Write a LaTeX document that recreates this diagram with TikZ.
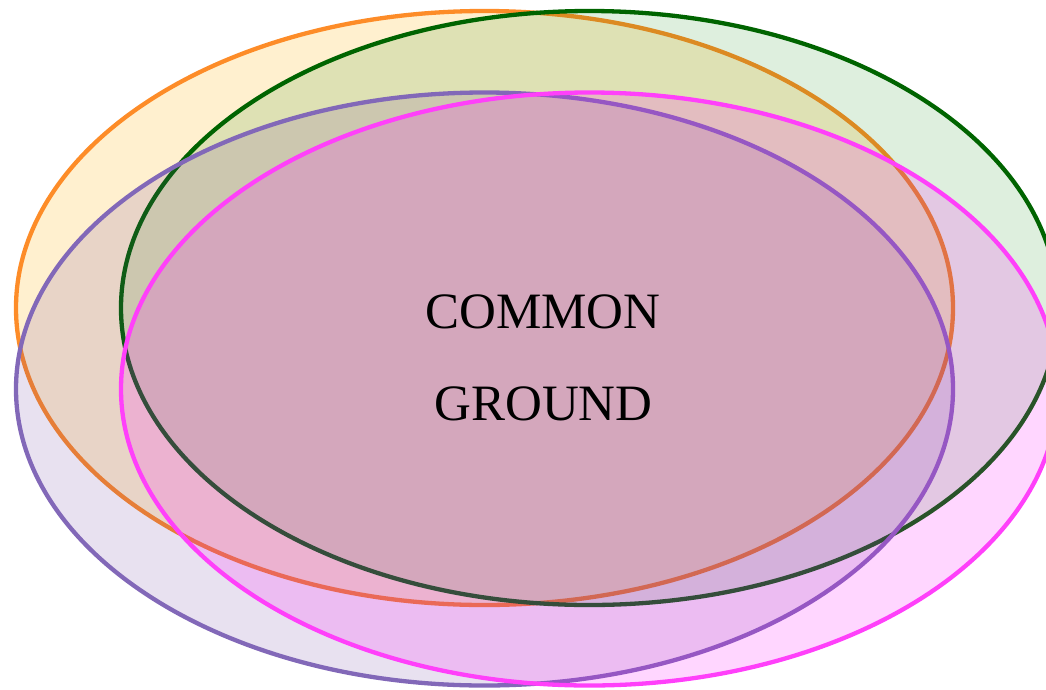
\documentclass[tikz,border=0pt]{standalone}
\usepackage{fontspec}
\setmainfont{Liberation Serif}
\definecolor{orStroke}{RGB}{253,140,40}
\definecolor{orFill}{RGB}{255,180,15}
\definecolor{grStroke}{RGB}{0,100,0}
\definecolor{grFill}{RGB}{0,128,0}
\definecolor{puStroke}{RGB}{130,104,184}
\definecolor{puFill}{RGB}{102,51,153}
\definecolor{piStroke}{RGB}{255,64,250}
\definecolor{piFill}{RGB}{255,0,255}
\tikzset{
  setellipse/.style={line width=4.3pt},
  label/.style={font=\fontsize{51}{60}\selectfont, anchor=base, inner sep=0pt}
}
\begin{document}
\begin{tikzpicture}[x=1pt,y=1pt]
\useasboundingbox (0,0) rectangle (1046,-689);
\clip (0,0) rectangle (1046,-689);
\path[setellipse, draw=orStroke, fill=orFill, fill opacity=0.2] (484.5,-308) ellipse [x radius=468.5, y radius=297];
\path[setellipse, draw=grStroke, fill=grFill, fill opacity=0.13] (589.5,-308) ellipse [x radius=468.5, y radius=297];
\path[setellipse, draw=puStroke, fill=puFill, fill opacity=0.15] (484.5,-389) ellipse [x radius=468.5, y radius=296.5];
\path[setellipse, draw=piStroke, fill=piFill, fill opacity=0.16] (589.5,-389) ellipse [x radius=468.5, y radius=296.5];
\node[label] (common) at (543,-328) {COMMON};
\node[label] (ground) at (543.5,-420) {GROUND};
\end{tikzpicture}
\end{document}
